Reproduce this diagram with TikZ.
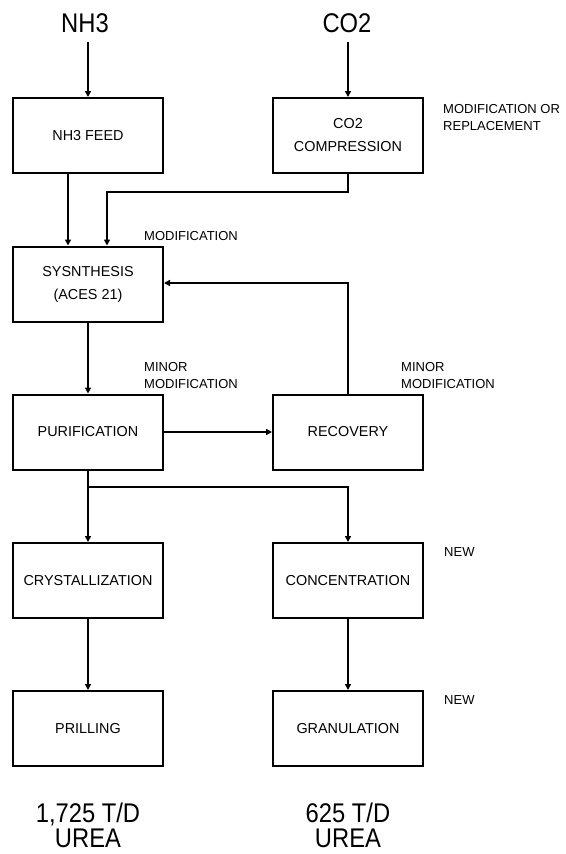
\documentclass[tikz,border=0pt]{standalone}
\usepackage{fontspec}
\setmainfont{Liberation Sans}
\newfontfamily\bigfont[FakeStretch=0.88]{Liberation Sans}
\usetikzlibrary{arrows.meta}
\tikzset{
  box/.style={draw, line width=2pt, minimum width=150pt, minimum height=75pt, inner sep=0pt, align=center, font=\fontsize{14.4}{23}\selectfont},
  big/.style={inner sep=0pt, align=center, font=\bigfont\fontsize{27}{25}\selectfont},
  note/.style={inner sep=0pt, anchor=west, align=left, font=\fontsize{13}{17.5}\selectfont},
  conn/.style={line width=1.8pt},
  arr/.style={conn, -{Triangle[length=6pt,width=6pt]}}
}
\begin{document}
\begin{tikzpicture}[x=1pt,y=-1pt]
\useasboundingbox (0,0) rectangle (565,854);
% labels on top
\node[big] (nh3) at (85,23.5) {NH3};
\node[big] (co2) at (347,23.5) {CO2};
% boxes
\node[box] (feed)   at (88,135.5)  {NH3 FEED};
\node[box] (comp)   at (348,135.5) {CO2\\COMPRESSION};
\node[box] (synth)  at (88,284)    {SYSNTHESIS\\(ACES 21)};
\node[box] (purif)  at (88,432)    {PURIFICATION};
\node[box] (recov)  at (348,432)   {RECOVERY};
\node[box] (cryst)  at (88,580.5)  {CRYSTALLIZATION};
\node[box] (conc)   at (348,580.5) {CONCENTRATION};
\node[box] (prill)  at (88,728.5)  {PRILLING};
\node[box] (gran)   at (348,728.5) {GRANULATION};
% bottom labels
\node[big] (out1) at (88,825) {1,725 T/D\\UREA};
\node[big] (out2) at (348,825) {625 T/D\\UREA};
% notes
\node[note] (n1) at (443,117.5) {MODIFICATION OR\\REPLACEMENT};
\node[note] (n2) at (144,236.5) {MODIFICATION};
\node[note] (n3) at (144,375.75) {MINOR\\MODIFICATION};
\node[note] (n4) at (401,375.75) {MINOR\\MODIFICATION};
\node[note] (n5) at (444,552) {NEW};
\node[note] (n6) at (444,700) {NEW};
% connectors
\coordinate (nh3in) at ([yshift=-9pt]nh3.south);
\coordinate (co2in) at ([yshift=-9pt]co2.south);
\draw[arr] (nh3in -| feed.north) -- (feed.north);
\draw[arr] (co2in -| comp.north) -- (comp.north);
\draw[arr] ([xshift=-20pt]feed.south) -- ([xshift=-20pt]synth.north);
\draw[arr] (comp.south) -- ++(0,18) -| ([xshift=19pt]synth.north);
\draw[arr] (synth.south) -- (purif.north);
\draw[arr] (recov.north) |- ([yshift=1pt]synth.east);
\draw[arr] (purif.east) -- (recov.west);
\coordinate (split) at (88,487);
\draw[conn] (purif.south) -- (split);
\draw[arr] (split) -- (cryst.north);
\draw[arr] (split) -| (conc.north);
\draw[arr] (cryst.south) -- (prill.north);
\draw[arr] (conc.south) -- (gran.north);
\end{tikzpicture}
\end{document}
